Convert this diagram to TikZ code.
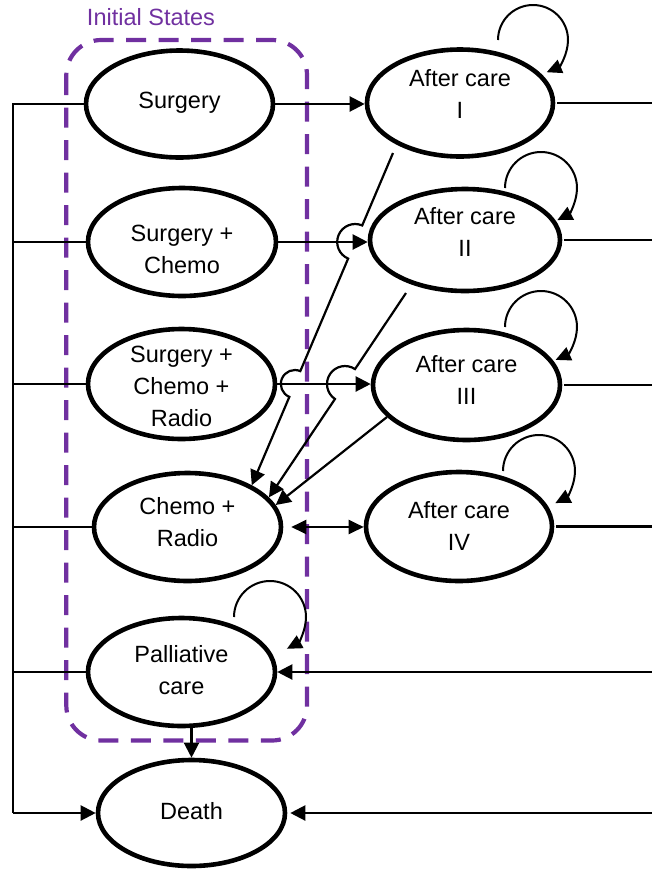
\documentclass[tikz,border=0pt]{standalone}
\usepackage{fontspec}
\setmainfont{Liberation Sans}
\usetikzlibrary{arrows.meta,calc,shapes.geometric}
\definecolor{ispurple}{HTML}{7030A0}
\newcommand{\tx}[2]{\raisebox{#1pt}[0pt][0pt]{\begin{tabular}[t]{@{}c@{}}#2\end{tabular}}}
\begin{document}
\begin{tikzpicture}[x=1pt,y=-1pt,
  st/.style={ellipse,draw,line width=4.6pt,inner sep=0pt,minimum width=187pt,minimum height=107pt,
    font=\fontsize{23.5}{32}\selectfont},
  conn/.style={line width=2.2pt},
  arr/.style={-{Triangle[length=15pt,width=15pt]}},
  darr/.style={{Triangle[length=15pt,width=14pt]}-{Triangle[length=15pt,width=14pt]}},
  loopc/.style={line width=2pt,-{Triangle[length=15pt,width=14pt]}},
  grp/.style={draw=ispurple,line width=4.2pt,dash pattern=on 20pt off 12.5pt,rounded corners=35pt},
  grplabel/.style={text=ispurple,font=\fontsize{23.5}{28}\selectfont,anchor=base,inner sep=0pt}
]
\useasboundingbox (0,0) rectangle (652,871);

% group box
\draw[grp] (66.3,40) rectangle (307,740.5);
\node[grplabel] (lbl) at (151,25.7) {Initial States};

% left column
\node[st] (s)   at (179.5,104) {\tx{-4.3}{Surgery}};
\node[st,minimum width=188pt,minimum height=108pt] (sc)  at (182,242) {\tx{0.3}{Surgery +\\Chemo}};
\node[st,minimum height=110pt] (scr) at (181.5,384) {\tx{21.3}{Surgery +\\Chemo +\\Radio}};
\node[st,minimum height=108pt] (cr)  at (187.5,527) {\tx{13}{Chemo +\\Radio}};
\node[st,minimum height=108pt] (pc)  at (181.5,672) {\tx{9.7}{Palliative\\care}};
\node[st,minimum height=106pt] (d)   at (191.5,813) {\tx{-6}{Death}};

% right column
\node[st,minimum width=186pt] (ac1) at (460,103) {\tx{16.3}{After care\\I}};
\node[st,minimum width=190pt,minimum height=102pt] (ac2) at (465,240) {\tx{15.7}{After care\\II}};
\node[st,minimum height=110pt] (ac3) at (466.5,385) {\tx{12.7}{After care\\III}};
\node[st,minimum width=186pt,minimum height=109pt] (ac4) at (459,526.5) {\tx{8.2}{After care\\IV}};

% left bus
\coordinate (lb) at (13.3,0);
\draw[conn] (s.west) -- (s.west -| lb) -- (d.west -| lb);
\draw[conn,arr] (d.west -| lb) -- (d.west);
\draw[conn] (sc.west) -- (sc.west -| lb);
\draw[conn] (scr.west) -- (scr.west -| lb);
\draw[conn] (cr.west) -- (cr.west -| lb);
\draw[conn] (pc.west) -- (pc.west -| lb);

% right bus (runs off the page)
\coordinate (rb) at (662,0);
\draw[conn,shorten <=2pt] (ac1.east) -- (ac1.east -| rb);
\draw[conn,shorten <=2pt] (ac2.east) -- (ac2.east -| rb);
\draw[conn,shorten <=2pt] (ac3.east) -- (ac3.east -| rb);
\draw[conn,shorten <=2pt] (ac4.east) -- (ac4.east -| rb);
\draw[conn,arr] (pc.east -| rb) -- (pc.east);
\draw[conn,arr,shorten >=3pt] (d.east -| rb) -- (d.east);

% initial -> after care
\draw[conn,arr] (s.east) -- (s.east -| ac1.west);
\coordinate (h2) at (sc.east -| ac2.west);
\coordinate (h3) at (scr.east -| ac3.west);
\coordinate (e2) at (sc.east);
\coordinate (e3) at (scr.east);
\draw[conn,arr] (e2) -- (h2);
\draw[conn,arr] (e3) -- (h3);
\draw[conn,darr,shorten <=8pt] (cr.east) -- (cr.east -| ac4.west);
\draw[conn,arr] (d.north |- pc.south) -- (d.north);

% after care -> chemo + radio (with line jumps)
\coordinate (a1) at ($(ac1.center)+(-67,50)$);
\coordinate (a2) at ($(ac2.center)+(-59,53)$);
\coordinate (a3) at ($(ac3.center)+(-79.5,32)$);
\coordinate (b1) at (cr.33);
\coordinate (b2) at (cr.20);
\coordinate (b3) at (cr.14);
\coordinate (x12) at (intersection of a1--b1 and e2--h2);
\coordinate (x13) at (intersection of a1--b1 and e3--h3);
\coordinate (x23) at (intersection of a2--b2 and e3--h3);
\draw[conn,arr] let \p1=($(a1)-(b1)$), \n1={atan2(\y1,\x1)} in
  (a1) -- ($(x12)+(\n1:18pt)$) arc[start angle=\n1,end angle=\n1+180,radius=18pt]
  -- ($(x13)+(\n1:14pt)$) arc[start angle=\n1,end angle=\n1+180,radius=14pt] -- (b1);
\draw[conn,arr] let \p1=($(a2)-(b2)$), \n1={atan2(\y1,\x1)} in
  (a2) -- ($(x23)+(\n1:18pt)$) arc[start angle=\n1,end angle=\n1+180,radius=18pt] -- (b2);
\draw[conn,arr] (a3) -- (b3);

% self loops
\draw[loopc] ($(ac1.center)+(38,-63)$) arc[start angle=180,end angle=-67,radius=35pt];
\draw[loopc] ($(ac2.center)+(40,-52)$) arc[start angle=180,end angle=-63,radius=36pt];
\draw[loopc] ($(ac3.center)+(38.5,-58)$) arc[start angle=180,end angle=-66,radius=36pt];
\draw[loopc] ($(ac4.center)+(44,-55.5)$) arc[start angle=180,end angle=-63,radius=36pt];
\draw[loopc] ($(pc.center)+(52.5,-55)$) arc[start angle=180,end angle=-62,radius=36pt];
\end{tikzpicture}
\end{document}
